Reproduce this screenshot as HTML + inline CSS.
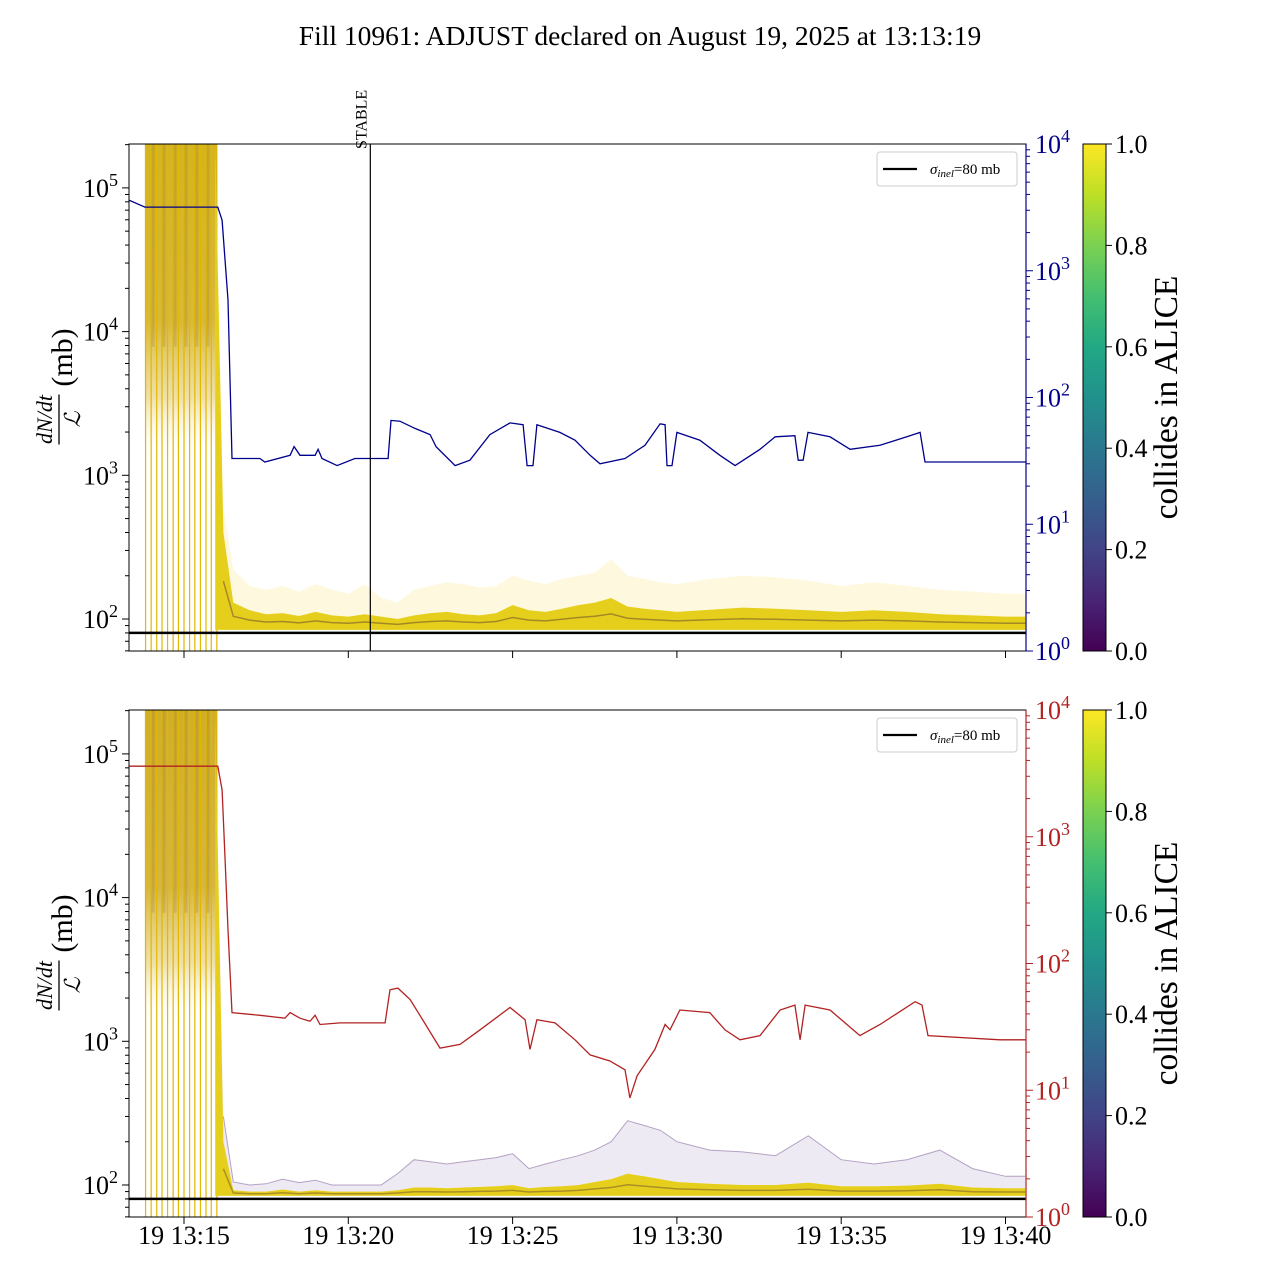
<!DOCTYPE html>
<html><head><meta charset="utf-8"><style>
html,body{margin:0;padding:0;background:#fff;}
svg{display:block;font-family:"Liberation Serif","DejaVu Serif",serif;}
</style></head><body>
<svg id="chart" width="1280" height="1280" viewBox="0 0 1280 1280" xmlns="http://www.w3.org/2000/svg">
<defs>
<linearGradient id="vir" x1="0" y1="1" x2="0" y2="0">
<stop offset="0" stop-color="#440154"/><stop offset="0.1" stop-color="#482475"/><stop offset="0.2" stop-color="#414487"/><stop offset="0.3" stop-color="#355f8d"/><stop offset="0.4" stop-color="#2a788e"/><stop offset="0.5" stop-color="#21918c"/><stop offset="0.6" stop-color="#22a884"/><stop offset="0.7" stop-color="#44bf70"/><stop offset="0.8" stop-color="#7ad151"/><stop offset="0.9" stop-color="#bddf26"/><stop offset="1" stop-color="#fde725"/>
</linearGradient>
<linearGradient id="blkTop" x1="0" y1="144" x2="0" y2="651" gradientUnits="userSpaceOnUse">
<stop offset="0" stop-color="#d4b420"/><stop offset="0.35" stop-color="#d8b838"/><stop offset="0.5" stop-color="#ecd890" stop-opacity="0.8"/><stop offset="0.62" stop-color="#ffffff" stop-opacity="0"/><stop offset="1" stop-color="#ffffff" stop-opacity="0"/>
</linearGradient>
<linearGradient id="blkBot" x1="0" y1="710" x2="0" y2="1217" gradientUnits="userSpaceOnUse">
<stop offset="0" stop-color="#d0ae28"/><stop offset="0.35" stop-color="#d6b640"/><stop offset="0.5" stop-color="#ecd890" stop-opacity="0.8"/><stop offset="0.62" stop-color="#ffffff" stop-opacity="0"/><stop offset="1" stop-color="#ffffff" stop-opacity="0"/>
</linearGradient>
<clipPath id="clipTop"><rect x="129" y="144" width="897" height="507"/></clipPath>
<clipPath id="clipBot"><rect x="129" y="710" width="897" height="507"/></clipPath>
</defs>
<text x="640" y="45" font-size="27.5" text-anchor="middle">Fill 10961: ADJUST declared on August 19, 2025 at 13:13:19</text>
</svg>
<script>
// ---- data ----
const blueTimes = [13.33,13.81,16.03,16.16,16.34,16.46,17.31,17.46,18.23,18.35,18.53,18.99,19.08,19.20,19.66,20.20,21.21,21.30,21.57,22.03,22.49,22.67,23.25,23.70,24.31,24.92,25.32,25.44,25.62,25.74,26.44,26.90,27.36,27.66,28.42,29.03,29.49,29.64,29.70,29.85,30.00,30.70,31.31,31.77,32.53,32.99,33.59,33.69,33.84,33.99,34.66,35.27,36.18,37.09,37.40,37.55,39.83,40.62];
const blueValues = [3600,3180,3180,2500,588,33,33,31,35,41,35,35,39,33,29,33,33,66,65,57,51,41,29,32,51,63,61,29,29,61,53,46,35,30,33,42,62,61,29,29,53,46,35,29,39,49,50,32,32,53,49,39,42,50,53,31,31,31];
const redTimes = [13.33,16.03,16.16,16.25,16.34,16.46,17.31,18.07,18.23,18.53,18.83,18.99,19.14,19.75,21.12,21.27,21.51,21.88,22.18,22.79,23.40,24.01,24.92,25.38,25.53,25.74,26.29,26.90,27.36,27.96,28.42,28.57,28.79,29.33,29.64,29.79,30.09,31.00,31.46,31.92,32.53,33.14,33.59,33.75,33.90,34.66,35.57,36.18,37.25,37.46,37.64,39.83,40.62];
const redValues = [3600,3600,2340,656,184,41,39,37,41,37,35,39,33,34,34,62,64,52,39,21.5,23,30,45,36,21,36,34,25,19,17,14.5,8.7,13,21,33,30,43,41,30,25,27,43,47,25,47,43,27,33,50,47,27,25,25];
const bandTimes = [15.95,16.2,16.5,17,17.5,18,18.5,19,19.5,20,20.5,21,21.5,22,22.5,23,23.5,24,24.5,25,25.5,26,26.5,27,27.5,28,28.5,29,29.5,30,31,32,33,34,35,36,37,38,39,40,40.6];
const topDenseUpper = [200000,400,130,115,108,110,105,112,106,104,108,104,100,106,110,112,108,106,110,125,115,112,118,125,130,140,122,118,115,112,116,120,118,115,112,115,112,108,106,104,104];
const topFaintUpper = [200000,600,220,170,160,170,155,175,160,150,175,140,130,160,170,180,175,165,170,200,185,175,190,200,210,260,200,190,180,175,190,200,195,185,170,180,170,160,155,150,150];
const botPurpleUpper = [200000,300,105,100,102,110,104,108,100,100,100,100,120,150,145,140,145,150,155,165,130,140,150,160,175,200,280,260,240,200,175,170,160,220,150,140,150,175,130,115,115];
const botYellowUpper = [200000,200,92,90,90,93,90,92,90,90,90,90,92,96,96,95,96,97,98,100,95,97,98,100,105,110,120,115,110,105,102,100,100,104,98,98,99,102,96,95,95];
const bandLower = 84;
const sigmaInel = 80;
const blockLineTimes = [13.83,14.0,14.17,14.33,14.5,14.67,14.83,15.0,15.17,15.33,15.5,15.67,15.83,16.0];
const xTickMinutes = [15,20,25,30,35,40];
const xTickLabels = ["19 13:15","19 13:20","19 13:25","19 13:30","19 13:35","19 13:40"];
const leftDecades = [2,3,4,5];
const rightDecades = [0,1,2,3,4];
const cbTicks = [0,0.2,0.4,0.6,0.8,1.0];
const cbTickLabels = ["0.0","0.2","0.4","0.6","0.8","1.0"];
const stableTime = 20.67;

// ---- geometry ----
const NS = "http://www.w3.org/2000/svg";
const svg = document.getElementById('chart');
const X0 = 129, X1 = 1026;
function xs(t){ return 184 + (t - 15) * 32.86; }
const panels = [
  {y0:144, y1:651, leftRef:619, rightBase:651, color:"#00008b", clip:"clipTop", blk:"blkTop", name:"top"},
  {y0:710, y1:1217, leftRef:1185, rightBase:1217, color:"#b22222", clip:"clipBot", blk:"blkBot", name:"bottom"}
];
function yL(p, v){ return p.leftRef - (Math.log10(v) - 2) * 143.7; }
function yR(p, v){ return p.rightBase - Math.log10(v) * 126.75; }
function mk(tag, attrs, parent){
  const e = document.createElementNS(NS, tag);
  for (const k in attrs) e.setAttribute(k, attrs[k]);
  (parent || svg).appendChild(e);
  return e;
}
function pathFrom(ts, vs, f){ return ts.map((t,i)=>(i?"L":"M")+xs(t).toFixed(1)+","+f(vs[i]).toFixed(1)).join(""); }
function bandPath(p, ts, up, low){
  let d = ts.map((t,i)=>(i?"L":"M")+xs(t).toFixed(1)+","+yL(p,up[i]).toFixed(1)).join("");
  for (let i = ts.length-1; i >= 0; i--) d += "L"+xs(ts[i]).toFixed(1)+","+yL(p, (typeof low==="number"?low:low[i])).toFixed(1);
  return d+"Z";
}

panels.forEach((p, pi) => {
  const g = mk('g', {'clip-path':'url(#'+p.clip+')'});
  
  

  const blk = mk('rect', {x:xs(13.81), y:p.y0, width:xs(16.0)-xs(13.81), height:p.y1-p.y0, fill:'url(#'+p.blk+')'}, g);
  
  
  blockLineTimes.forEach(t => {
    const l = mk('line', {x1:xs(t), x2:xs(t), y1:p.y0, y2:p.y1, stroke:'#e0b800', 'stroke-width':1.2}, g);
    
    
  });
  for (let k = 0; k < 6; k++){
    const t = blockLineTimes[k*2+1];
    const s = mk('line', {x1:xs(t)+2, x2:xs(t)+2, y1:p.y0, y2:p.y0+(p.y1-p.y0)*0.4, stroke:'#8a6a30', 'stroke-opacity':0.2, 'stroke-width':3}, g);
    
    
  }

  if (pi === 0){
    const f = mk('path', {d:bandPath(p, bandTimes, topFaintUpper, bandLower), fill:'#fbeea0', 'fill-opacity':0.35}, g);
    
    
    const d = mk('path', {d:bandPath(p, bandTimes, topDenseUpper, bandLower), fill:'#e6cf1c'}, g);
    
    
    const m = mk('path', {d:pathFrom(bandTimes.slice(1), topDenseUpper.slice(1).map(v=>Math.sqrt(v*bandLower)), v=>yL(p,v)), fill:'none', stroke:'#6b5030', 'stroke-opacity':0.55, 'stroke-width':1.5}, g);
    
    
  } else {
    const f = mk('path', {d:bandPath(p, bandTimes, botPurpleUpper, botYellowUpper), fill:'#c8b8d6', 'fill-opacity':0.3}, g);
    
    
    const fl = mk('path', {d:pathFrom(bandTimes.slice(1), botPurpleUpper.slice(1), v=>yL(p,v)), fill:'none', stroke:'#8a6aa0', 'stroke-opacity':0.6, 'stroke-width':1}, g);
    
    
    const d = mk('path', {d:bandPath(p, bandTimes, botYellowUpper, bandLower), fill:'#e6cf1c'}, g);
    
    
    const m = mk('path', {d:pathFrom(bandTimes.slice(1), botYellowUpper.slice(1).map(v=>Math.sqrt(v*bandLower)), v=>yL(p,v)), fill:'none', stroke:'#6b5030', 'stroke-opacity':0.5, 'stroke-width':1.5}, g);
    
    
  }

  const sl = mk('line', {x1:X0, x2:X1, y1:yL(p,sigmaInel), y2:yL(p,sigmaInel), stroke:'#000', 'stroke-width':2.5}, g);
  
  

  const ts = pi===0 ? blueTimes : redTimes, vs = pi===0 ? blueValues : redValues;
  const ln = mk('path', {d:pathFrom(ts, vs, v=>yR(p,v)), fill:'none', stroke:p.color, 'stroke-width':1.3}, g);
  
  

  if (pi === 0){
    const st = mk('line', {x1:xs(stableTime), x2:xs(stableTime), y1:p.y0, y2:p.y1, stroke:'#000', 'stroke-width':1.2}, g);
    
    
    const stt = mk('text', {x:0, y:0, 'font-size':16, transform:'translate('+(xs(stableTime)-4)+',149) rotate(-90)'});
    stt.textContent = 'STABLE';
    
    
  }

  const fr = mk('rect', {x:X0, y:p.y0, width:X1-X0, height:p.y1-p.y0, fill:'none', stroke:'#000', 'stroke-width':1});
  
  
  const rs = mk('line', {x1:X1, x2:X1, y1:p.y0, y2:p.y1, stroke:p.color, 'stroke-width':1.2});
  
  

  for (let dcd = 1; dcd <= 5; dcd++){
    for (let m = 1; m <= 9; m++){
      const v = m * Math.pow(10, dcd);
      const y = yL(p, v);
      if (y < p.y0 - 0.5 || y > p.y1 + 0.5) continue;
      const tk = mk('line', {x1:X0, x2:X0-(m===1?7:4), y1:y, y2:y, stroke:'#000', 'stroke-width':1});
      
      
    }
  }
  leftDecades.forEach(e => {
    const y = yL(p, Math.pow(10,e));
    const t = mk('text', {x:118, y:y+9, 'font-size':26, 'text-anchor':'end'});
    t.innerHTML = '10<tspan dy="-11" font-size="18">'+e+'</tspan>';
    
    
  });
  for (let dcd = 0; dcd <= 3; dcd++){
    for (let m = 1; m <= 9; m++){
      const y = yR(p, m*Math.pow(10,dcd));
      const tk = mk('line', {x1:X1, x2:X1+(m===1?7:4), y1:y, y2:y, stroke:p.color, 'stroke-width':1});
      
      
    }
  }
  rightDecades.forEach(e => {
    const y = yR(p, Math.pow(10,e));
    const t = mk('text', {x:1035, y:y+9, 'font-size':26, fill:p.color});
    t.innerHTML = '10<tspan dy="-11" font-size="18">'+e+'</tspan>';
    
    
  });
  xTickMinutes.forEach((mnt, i) => {
    const x = xs(mnt);
    const tk = mk('line', {x1:x, x2:x, y1:p.y1, y2:p.y1+7, stroke:'#000', 'stroke-width':1});
    
    
    if (pi === 1){
      const t = mk('text', {x:x, y:p.y1+27, 'font-size':26, 'text-anchor':'middle'});
      t.textContent = xTickLabels[i];
      
      
    }
  });
  const yg = mk('g', {transform:'translate(62,'+((p.y0+p.y1)/2-8)+') rotate(-90)'});
  
  
  const yt1 = mk('text', {x:-30, y:-10, 'font-size':22, 'font-style':'italic', 'text-anchor':'middle'}, yg);
  yt1.textContent = 'dN/dt';
  const yb = mk('line', {x1:-55, x2:-5, y1:-3, y2:-3, stroke:'#000', 'stroke-width':1.3}, yg);
  
  
  const yt2 = mk('text', {x:-30, y:18, 'font-size':22, 'font-style':'italic', 'text-anchor':'middle'}, yg);
  yt2.textContent = 'ℒ';
  const yt3 = mk('text', {x:32, y:10, 'font-size':30, 'text-anchor':'middle'}, yg);
  yt3.textContent = '(mb)';

  const lg = mk('g', {});
  
  
  mk('rect', {x:877, y:p.y0+8, width:140, height:34, rx:3, fill:'#fff', 'fill-opacity':0.85, stroke:'#ccc'}, lg);
  mk('line', {x1:883, x2:917, y1:p.y0+25, y2:p.y0+25, stroke:'#000', 'stroke-width':2.2}, lg);
  const ltx = mk('text', {x:930, y:p.y0+30, 'font-size':15}, lg);
  ltx.innerHTML = '<tspan font-style="italic">σ</tspan><tspan font-style="italic" font-size="11" dy="3">inel</tspan><tspan dy="-3">=80 mb</tspan>';

  const cb = mk('rect', {x:1083, y:p.y0, width:23, height:p.y1-p.y0, fill:'url(#vir)', stroke:'#000', 'stroke-width':1});
  
  
  cbTicks.forEach((v, i) => {
    const y = p.y1 - v*(p.y1-p.y0);
    const tk = mk('line', {x1:1106, x2:1112, y1:y, y2:y, stroke:'#000'});
    
    
    const t = mk('text', {x:1115, y:y+9, 'font-size':26});
    t.textContent = cbTickLabels[i];
    
    
  });
  const cbl = mk('text', {x:0, y:0, 'font-size':33.5, 'text-anchor':'middle', transform:'translate(1177,'+((p.y0+p.y1)/2)+') rotate(-90)'});
  cbl.textContent = 'collides in ALICE';
  
  
});
</script>
</body></html>
